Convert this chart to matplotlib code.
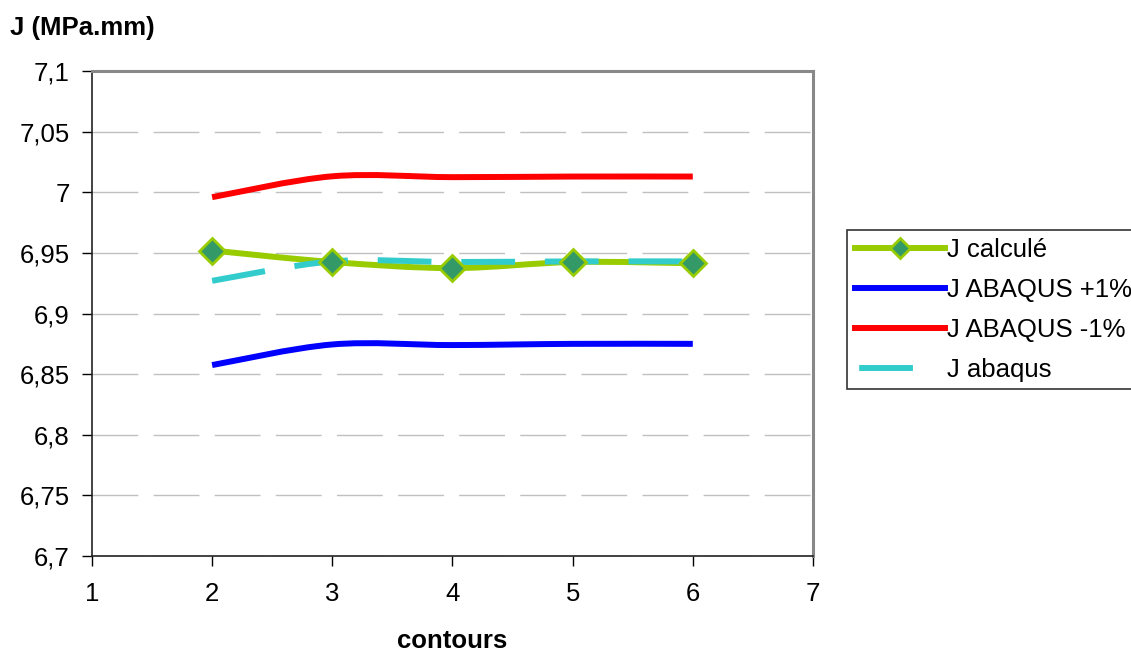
import numpy as np
import matplotlib
matplotlib.use("Agg")
import matplotlib.pyplot as plt
from matplotlib.path import Path
from matplotlib.patches import PathPatch
from matplotlib.lines import Line2D

plt.rcParams['font.family'] = ['Liberation Sans', 'DejaVu Sans']

# data
contours = [2, 3, 4, 5, 6]
j_calcule = [6.952, 6.9425, 6.9375, 6.9425, 6.9415]
j_abaqus_plus = [6.8575, 6.8745, 6.874, 6.875, 6.875]
j_abaqus_minus = [6.996, 7.0132, 7.0125, 7.013, 7.013]
j_abaqus = [6.927, 6.943, 6.9425, 6.943, 6.943]
labels = ['J calculé', 'J ABAQUS +1%', 'J ABAQUS -1%', 'J abaqus']


def smooth_path(x, y):
    # Excel-like smoothed line: cubic Bezier segments through the points
    p = np.column_stack([x, y]).astype(float)
    n = len(p)
    verts = [p[0]]
    codes = [Path.MOVETO]
    for i in range(n - 1):
        p0 = p[i - 1] if i > 0 else p[i]
        p3 = p[i + 2] if i + 2 < n else p[i + 1]
        c1 = p[i] + (p[i + 1] - p0) / 6.0
        c2 = p[i + 1] - (p3 - p[i]) / 6.0
        verts += [c1, c2, p[i + 1]]
        codes += [Path.CURVE4] * 3
    return Path(verts, codes)


fs = 18.5
fig = plt.figure(figsize=(11.31, 6.52), dpi=100)
ax = fig.add_axes([0.0813, 0.1472, 0.6375, 0.7438])

ax.set_xlim(1, 7)
ax.set_ylim(6.7, 7.1)
ax.set_xticks(range(1, 8))
yt = np.round(np.arange(6.7, 7.1001, 0.05), 2)
ax.set_yticks(yt)
ax.set_yticklabels([('%g' % v).replace('.', ',') for v in yt])
ax.tick_params(labelsize=fs, length=7, width=1, direction='out')
ax.tick_params(axis='x', pad=12)
ax.tick_params(axis='y', pad=9)

ax.yaxis.grid(True, color='#c0c0c0', linestyle=(0, (33, 11)), linewidth=1)
ax.set_axisbelow(True)

for s in ['top', 'right']:
    ax.spines[s].set_color('#888888')
    ax.spines[s].set_linewidth(2.2)
for s in ['left', 'bottom']:
    ax.spines[s].set_color('#222222')
    ax.spines[s].set_linewidth(1.2)

lw = 4.3
ax.add_patch(PathPatch(smooth_path(contours, j_abaqus_minus), fill=False,
                       edgecolor='#ff0000', lw=lw, capstyle='butt', zorder=3))
ax.add_patch(PathPatch(smooth_path(contours, j_abaqus_plus), fill=False,
                       edgecolor='#0000ff', lw=lw, capstyle='butt', zorder=3))
ax.add_patch(PathPatch(smooth_path(contours, j_calcule), fill=False,
                       edgecolor='#99cc00', lw=lw, capstyle='butt', zorder=4))
ax.add_patch(PathPatch(smooth_path(contours, j_abaqus), fill=False,
                       edgecolor='#33cccc', lw=lw, capstyle='butt',
                       linestyle=(0, (9, 5)), zorder=5))
ax.plot(contours, j_calcule, linestyle='none', marker='D', markersize=13.5,
        markerfacecolor='#339966', markeredgecolor='#99cc00',
        markeredgewidth=2, zorder=6, clip_on=False)

fig.text(0.009, 0.957, 'J (MPa.mm)', fontsize=fs, fontweight='bold',
         ha='left', va='center')
ax.set_xlabel('contours', fontsize=fs, fontweight='bold', labelpad=16)

handles = [
    Line2D([], [], color='#99cc00', lw=lw, marker='D', markersize=10,
           markerfacecolor='#339966', markeredgecolor='#99cc00', markeredgewidth=2),
    Line2D([], [], color='#0000ff', lw=lw),
    Line2D([], [], color='#ff0000', lw=lw),
    Line2D([], [], color='#33cccc', lw=lw, linestyle=(20.3, (9, 12)),
           solid_capstyle='butt', dash_capstyle='butt'),
]
leg = fig.legend(handles, labels, loc='upper left',
                 bbox_to_anchor=(0.749, 0.647), borderaxespad=0,
                 fontsize=fs, frameon=True, fancybox=False, shadow=False,
                 handlelength=3.5, handletextpad=0.08, labelspacing=0.62,
                 borderpad=0.3)
leg.get_frame().set_edgecolor('black')
leg.get_frame().set_linewidth(1.2)

fig.savefig('out.png', dpi=100)
